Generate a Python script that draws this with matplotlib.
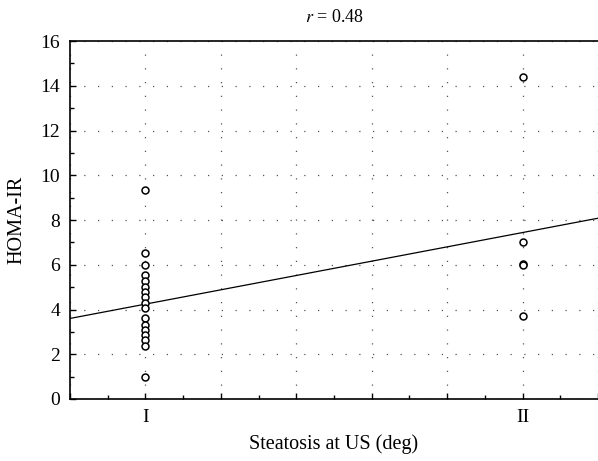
import matplotlib
matplotlib.use("Agg")
import matplotlib.pyplot as plt
import numpy as np
from matplotlib.ticker import MultipleLocator

plt.rcParams['font.family'] = ['Liberation Serif', 'DejaVu Serif']
plt.rcParams['mathtext.fontset'] = 'stix'

# steatosis grade I / II, HOMA-IR values
grade1 = [9.35, 6.53, 5.98, 5.53, 5.28, 5.01, 4.79, 4.57, 4.28, 4.06,
          3.6, 3.3, 3.08, 2.86, 2.63, 2.37, 1.0]
grade2 = [14.4, 7.0, 6.05, 6.0, 3.7]
# regression line (intercept, slope)
fit_b = 1.04
fit_a = 3.2

fig = plt.figure(figsize=(5.98, 4.61), dpi=100)
ax = fig.add_axes([0.117, 0.1345, 0.883, 0.7765])

x1 = np.ones(len(grade1))
x2 = np.full(len(grade2), 2.0)
ax.plot(x1, grade1, 'o', mfc='white', mec='black', ms=5, mew=1.1, zorder=3, clip_on=False)
ax.plot(x2, grade2, 'o', mfc='white', mec='black', ms=5, mew=1.1, zorder=3, clip_on=False)

xl = np.array([0.8, 2.2])
ax.plot(xl, fit_b + fit_a * xl, color='black', lw=0.9, zorder=2)

ax.set_xlim(0.8, 2.2)
ax.set_ylim(0, 16)
ax.xaxis.set_major_locator(MultipleLocator(0.2))
ax.xaxis.set_minor_locator(MultipleLocator(0.1))
ax.yaxis.set_major_locator(MultipleLocator(2))
ax.yaxis.set_minor_locator(MultipleLocator(1))
ticks = ax.get_xticks()
ax.set_xticklabels(['I' if abs(t - 1) < 1e-6 else 'II' if abs(t - 2) < 1e-6 else '' for t in ticks])
ax.tick_params(which='both', direction='in', labelsize=14, top=False, right=False)
ax.tick_params(which='major', length=4, width=1, pad=7)
ax.tick_params(which='minor', length=3, width=1)
ax.grid(True, which='major', color='#555555', linestyle=(0, (1, 10)), lw=0.9)
ax.spines['right'].set_visible(False)
for s in ax.spines.values():
    s.set_linewidth(1.2)

ax.set_xlabel('Steatosis at US (deg)', fontsize=14.5, labelpad=6)
ax.set_ylabel('HOMA-IR', fontsize=14.5, labelpad=10)
ax.set_title('$r$ = 0.48', fontsize=13, pad=14)

fig.savefig('out.png', dpi=100)
